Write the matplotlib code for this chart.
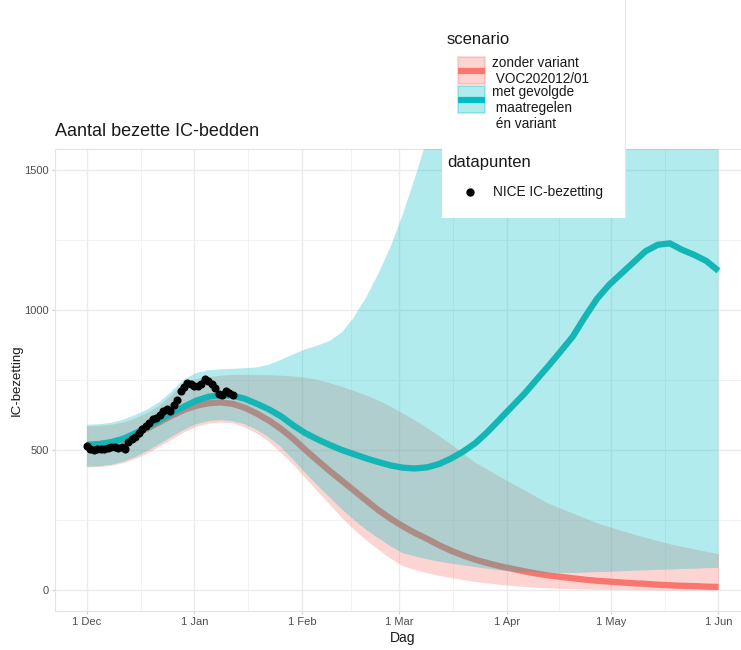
import numpy as np
import matplotlib.pyplot as plt
from matplotlib.patches import Rectangle

plt.rcParams['font.family'] = ['Liberation Sans', 'DejaVu Sans']

# model output, every 3.5 days, 1 Dec 2020 .. 1 Jun 2021
start = np.datetime64('2020-12-01T00', 'h')
model_dates = start + np.arange(0, 182 * 24 + 1, 84).astype('timedelta64[h]')

# scenario: zonder variant VOC202012/01
red_mid = [518, 521, 527, 538, 556, 577, 600, 623, 643, 658, 667, 670, 665, 651,
           630, 605, 575, 540, 500, 462, 425, 390, 355, 320, 285, 255, 228, 204,
           183, 160, 140, 123, 108, 96, 85, 76, 67, 59, 52, 47, 42, 37, 33, 30,
           27, 24, 22, 19, 17, 15, 14, 12, 11]
red_low = [440, 441, 445, 455, 470, 490, 515, 540, 565, 585, 596, 600, 597, 582,
           560, 530, 490, 447, 400, 352, 305, 258, 215, 178, 145, 113, 87, 73,
           62, 52, 44, 37, 30, 25, 20, 16, 13, 10, 8, 6, 5, 4, 3, 2,
           2, 1, 1, 0, 0, 0, 0, 0, 0]
red_high = [586, 588, 592, 600, 615, 635, 662, 700, 745, 756, 762, 767, 770, 770,
            770, 769, 767, 764, 760, 752, 740, 727, 712, 696, 678, 656, 632, 607,
            580, 551, 520, 487, 455, 430, 405, 381, 358, 333, 310, 292, 275, 257,
            240, 226, 213, 200, 188, 176, 165, 156, 147, 138, 130]

# scenario: met gevolgde maatregelen en variant
teal_mid = [518, 521, 528, 540, 560, 583, 608, 633, 655, 676, 690, 696, 694, 683,
            665, 645, 620, 588, 560, 538, 518, 500, 485, 470, 457, 445, 437, 434,
            438, 450, 470, 495, 525, 565, 610, 655, 700, 750, 800, 852, 905, 975,
            1040, 1090, 1130, 1170, 1210, 1233, 1238, 1215, 1197, 1175, 1140]
teal_low = [440, 442, 447, 458, 475, 497, 522, 548, 572, 592, 603, 607, 603, 592,
            572, 545, 510, 465, 418, 373, 330, 288, 250, 215, 185, 156, 132, 120,
            110, 101, 94, 88, 82, 76, 70, 67, 65, 63, 62, 61, 61, 62, 64, 65,
            67, 69, 70, 72, 73, 75, 76, 78, 79]
teal_high = [590, 592, 597, 608, 625, 645, 672, 710, 752, 775, 785, 788, 790, 792,
             795, 805, 822, 842, 860, 873, 890, 920, 975, 1045, 1130, 1225, 1340, 1470,
             1610, 1760, 1900, 2050, 2200, 2350, 2500, 2650, 2800, 2950, 3100, 3250,
             3400, 3550, 3700, 3850, 4000, 4150, 4300, 4450, 4600, 4750, 4900, 5050, 5200]

# NICE IC-bezetting, daily from 1 Dec
nice_dates = np.datetime64('2020-12-01') + np.arange(43).astype('timedelta64[D]')
nice_values = [515, 505, 500, 503, 505, 505, 508, 510, 512, 508, 510, 505, 530, 540,
               548, 560, 575, 585, 598, 610, 615, 625, 640, 648, 640, 660, 680, 710,
               725, 738, 735, 730, 728, 735, 752, 745, 735, 722, 700, 698, 712, 705, 695]

month_ticks = np.array(['2020-12-01', '2021-01-01', '2021-02-01', '2021-03-01',
                        '2021-04-01', '2021-05-01', '2021-06-01'], dtype='datetime64[h]')
month_labels = ['1 Dec', '1 Jan', '1 Feb', '1 Mar', '1 Apr', '1 May', '1 Jun']

RED = '#F8766D'
TEAL = '#00BFC4'
W, H = 741, 650

fig = plt.figure(figsize=(7.41, 6.5), dpi=100)
# panel spans x 55..750 px (cut off at the right), y 149..611 px
ax = fig.add_axes([55.3 / W, 1 - 611 / H, 694.7 / W, 462 / H])

ax.fill_between(model_dates, red_low, red_high, color=RED, alpha=0.3, lw=0, zorder=2)
ax.plot(model_dates, red_mid, color=RED, lw=4.5, solid_capstyle='butt', zorder=3)
ax.fill_between(model_dates, teal_low, teal_high, color=TEAL, alpha=0.3, lw=0, zorder=4)
ax.plot(model_dates, teal_mid, color='#13B5B5', lw=4.5, solid_capstyle='butt', zorder=5)
ax.scatter(nice_dates, nice_values, s=34, color='black', zorder=6, linewidths=0)

pad = np.timedelta64(9 * 24 + 2, 'h')
ax.set_xlim(month_ticks[0] - pad, month_ticks[-1] + pad)
ax.set_ylim(-75, 1575)

ax.set_xticks(month_ticks)
ax.set_xticklabels(month_labels)
ax.set_xticks(month_ticks[:-1] + (month_ticks[1:] - month_ticks[:-1]) / 2, minor=True)
ax.set_yticks([0, 500, 1000, 1500])
ax.set_yticks([250, 750, 1250], minor=True)
ax.tick_params(axis='both', which='major', labelsize=8, labelcolor='#4D4D4D',
               color='#D0D0D0', length=2.5, width=0.8, pad=2)
ax.tick_params(axis='both', which='minor', length=0)
ax.grid(True, which='major', color='#EBEBEB', lw=1.0)
ax.grid(True, which='minor', color='#F0F0F0', lw=0.6)
ax.set_axisbelow(True)
for s in ax.spines.values():
    s.set_color('#E3E3E3')
    s.set_linewidth(0.8)

ax.set_xlabel('Dag', fontsize=10, color='#1A1A1A', labelpad=3)
ax.set_ylabel('IC-bezetting', fontsize=9.5, color='#1A1A1A', labelpad=1)
ax.set_title('Aantal bezette IC-bedden', loc='left', fontsize=13, color='#1A1A1A',
             pad=9)

# legend box, drawn in pixel coordinates of the image
leg = fig.add_axes([442 / W, 1 - 218 / H, 183 / W, 218 / H], zorder=10)
leg.set_xlim(442, 625)
leg.set_ylim(218, 0)
leg.set_facecolor('white')
leg.set_xticks([])
leg.set_yticks([])
for k, s in leg.spines.items():
    s.set_visible(k == 'right')
leg.spines['right'].set_color('#E6E6E6')

leg.text(447, 40, 'scenario', fontsize=12, color='#1A1A1A', va='center')
for y0, col, label in [(57, RED, 'zonder variant\n VOC202012/01'),
                       (86, TEAL, 'met gevolgde\n maatregelen\n én variant')]:
    leg.add_patch(Rectangle((458, y0), 27, 27, facecolor=col, alpha=0.3,
                            edgecolor=col, lw=1.2))
    leg.plot([458, 485], [y0 + 13.5, y0 + 13.5], color=col, lw=4.5,
             solid_capstyle='butt')
    leg.text(492, y0 - 1, label, fontsize=9.8, color='#1A1A1A', va='top',
             linespacing=1.16)

leg.text(447, 162, 'datapunten', fontsize=12, color='#1A1A1A', va='center')
leg.plot([470], [192], 'o', color='black', ms=5)
leg.text(493, 192, 'NICE IC-bezetting', fontsize=9.8, color='#1A1A1A', va='center')

fig.savefig('out.png', dpi=100)
